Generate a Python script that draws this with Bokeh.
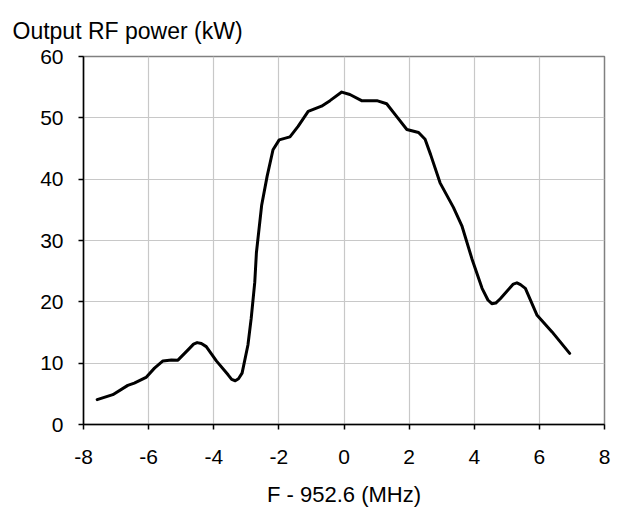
from bokeh.plotting import figure
from bokeh.models import Range1d, FixedTicker
from bokeh.embed import file_html
from bokeh.resources import INLINE

freq = [-7.58, -7.10, -6.64, -6.44, -6.08, -5.82, -5.56, -5.30, -5.10, -4.79, -4.62, -4.51, -4.38, -4.23,
        -3.92, -3.56, -3.45, -3.34, -3.24, -3.13, -2.95, -2.85, -2.74, -2.69, -2.53, -2.36, -2.18, -1.99,
        -1.66, -1.41, -1.10, -0.69, -0.43, -0.07, 0.18, 0.54, 1.01, 1.31, 1.62, 1.93, 2.29, 2.49, 2.66,
        2.95, 3.36, 3.62, 3.93, 4.24, 4.42, 4.54, 4.66, 4.80, 5.20, 5.31, 5.42, 5.57, 5.93, 6.39, 6.93]
power = [4.05, 4.86, 6.38, 6.76, 7.68, 9.19, 10.37, 10.5, 10.49, 12.16, 13.1, 13.35, 13.2, 12.7,
         10.37, 8.1, 7.35, 7.13, 7.45, 8.38, 12.97, 17.3, 23.2, 28.0, 35.7, 40.5, 44.8, 46.4,
         46.9, 48.6, 51.05, 51.9, 52.8, 54.2, 53.8, 52.8, 52.8, 52.3, 50.2, 48.1, 47.6, 46.5, 44.0,
         39.4, 35.4, 32.4, 27.0, 22.2, 20.3, 19.7, 19.8, 20.5, 22.9, 23.1, 22.8, 22.2, 17.8, 15.1, 11.6]

x_ticks = [-8, -6, -4, -2, 0, 2, 4, 6, 8]
y_ticks = [0, 10, 20, 30, 40, 50, 60]
x_tick_labels = {t: str(t) for t in x_ticks}

p = figure(width=617, height=509, output_backend="svg", toolbar_location=None,
           x_range=Range1d(-8, 8), y_range=Range1d(0, 60),
           min_border_left=83, min_border_right=13, min_border_top=56, min_border_bottom=82,
           title="Output RF power (kW)")
p.title.text_font = "Liberation Sans"
p.title.text_font_size = "23px"
p.title.text_font_style = "normal"
p.title.align = "left"
p.title.offset = -71
p.title.standoff = 25
p.title.text_color = "black"

p.line(freq, power, line_color="black", line_width=3, line_join="round", line_cap="round")

p.xaxis.ticker = FixedTicker(ticks=x_ticks)
p.yaxis.ticker = FixedTicker(ticks=y_ticks)
p.xaxis.major_label_overrides = x_tick_labels
p.xaxis.axis_label = "F - 952.6 (MHz)"
for ax in (p.xaxis, p.yaxis):
    ax.axis_label_text_font = "Liberation Sans"
    ax.axis_label_text_font_size = "22px"
    ax.axis_label_text_font_style = "normal"
    ax.axis_label_text_color = "black"
    ax.major_label_text_font = "Liberation Sans"
    ax.major_label_text_font_size = "21px"
    ax.major_label_text_color = "black"
    ax.axis_line_color = "black"
    ax.axis_line_width = 1.5
    ax.major_tick_line_color = "black"
    ax.major_tick_line_width = 1.5
    ax.major_tick_in = 0
    ax.major_tick_out = 5
    ax.minor_tick_line_color = None
p.xaxis.major_label_standoff = 20
p.xaxis.axis_label_standoff = 15
p.yaxis.major_label_standoff = 15

p.xgrid.ticker = FixedTicker(ticks=x_ticks)
p.ygrid.ticker = FixedTicker(ticks=y_ticks)
p.grid.grid_line_color = "#c8c8c8"
p.grid.grid_line_width = 1.2
p.outline_line_color = "#808080"
p.outline_line_width = 1.5

open("out.html", "w").write(file_html(p, INLINE))
